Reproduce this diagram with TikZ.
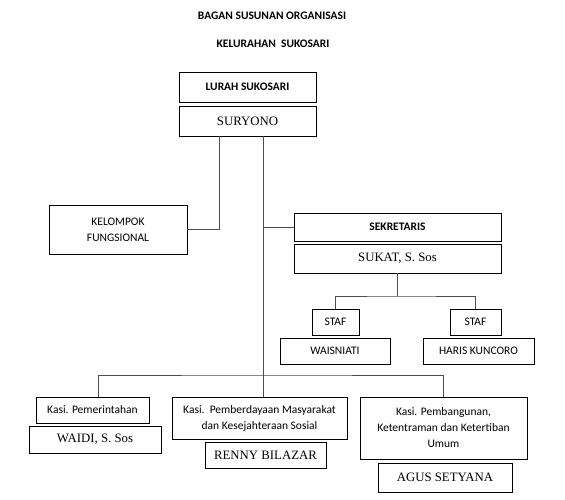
\documentclass[tikz,border=0pt]{standalone}
\usepackage{fontspec}
\setmainfont{Liberation Serif}
\newfontfamily\calib{Carlito}

\tikzset{
	box/.style={draw, line width=0.8pt, inner sep=1pt, align=center},
	head/.style={box, font=\calib\bfseries\fontsize{11.5}{13}\selectfont},
	person/.style={box, font=\fontsize{12.8}{15}\selectfont},
	unit/.style={box, font=\calib\fontsize{11.5}{16}\selectfont},
	kasi/.style={box, font=\calib\fontsize{11.5}{16}\selectfont},
	link/.style={draw=black!70, line width=0.8pt},
}

\begin{document}
\begin{tikzpicture}[x=1pt,y=-1pt]
		\useasboundingbox (0,0) rectangle (565,500);
		% judul
		\node[font=\calib\bfseries\fontsize{11.5}{13}\selectfont] (judul1) at (272,16) {BAGAN SUSUNAN ORGANISASI};
		\node[font=\calib\bfseries\fontsize{11.5}{13}\selectfont] (judul2) at (273,44) {KELURAHAN\ \ SUKOSARI};
		
		% lurah
		\node[head, minimum width=137pt, minimum height=30pt] (lurah) at (247.5,87) {LURAH SUKOSARI};
		\node[person, minimum width=137pt, minimum height=30pt] (suryono) at (247.5,121) {SURYONO};
		
		\node[unit, minimum width=138pt, minimum height=49pt] (kelompok) at (118,229.5) {KELOMPOK\\FUNGSIONAL};
		
		% sekretaris
		\node[head, minimum width=207pt, minimum height=28pt] (sekretaris) at (397.5,227) {SEKRETARIS};
		\node[person, minimum width=207pt, minimum height=29pt] (sukat) at (397.5,258.5) {SUKAT, S. Sos};
		
		\node[unit, minimum width=47pt, minimum height=26pt] (staf1) at (335.5,322) {STAF};
		\node[unit, minimum width=51pt, minimum height=26pt] (staf2) at (475.5,322) {STAF};
		\node[unit, minimum width=110pt, minimum height=26pt] (waisniati) at (335,351) {WAISNIATI};
		\node[unit, minimum width=111pt, minimum height=26pt] (haris) at (478.5,351) {HARIS KUNCORO};
		
		% kasi
		\node[kasi, minimum width=113pt, minimum height=26pt] (kasi1) at (92.5,410) {Kasi. Pemerintahan};
		\node[person, minimum width=132pt, minimum height=27pt] (waidi) at (95,439.5) {WAIDI, S. Sos};
		\node[kasi, minimum width=175pt, minimum height=42pt] (kasi2) at (259.5,418) {Kasi.\ \ Pemberdayaan Masyarakat\\dan Kesejahteraan Sosial};
		\node[person, minimum width=121pt, minimum height=26pt] (renny) at (265.5,455) {RENNY BILAZAR};
		\node[kasi, minimum width=167pt, minimum height=62pt] (kasi3) at (443.5,428) {Kasi. Pembangunan,\\Ketentraman dan Ketertiban\\Umum};
		\node[person, minimum width=134pt, minimum height=29pt] (agus) at (445,477.5) {AGUS SETYANA};
		
		% garis
		\coordinate (cabang) at (219,136);
		\coordinate (batang) at (263,136);
		\coordinate (bawah) at (263,375);
		\coordinate (bagi) at (397.5,296);
		\draw[link] (cabang) |- (kelompok.east);
		\draw[link] (batang) -- (bawah);
		\draw[link] (batang |- sekretaris.west) -- (sekretaris.west);
		\draw[link] (kasi1.north -| 98,0) |- (bawah) -| (kasi3.north);
		\draw[link] (bawah) -- (bawah |- kasi2.north);
		\draw[link] (sukat.south) -- (bagi);
		\draw[link] (staf1.north) |- (bagi) -| (staf2.north);
	\end{tikzpicture}
\end{document}
